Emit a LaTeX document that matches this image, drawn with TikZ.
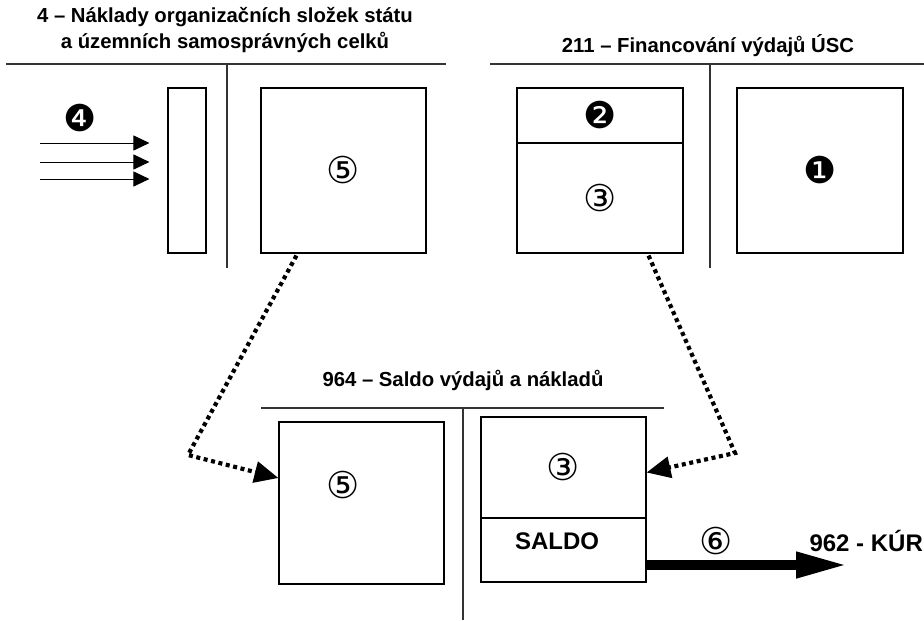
\documentclass[tikz,border=0pt]{standalone}
\usepackage{fontspec}
\setmainfont{Liberation Sans}
\newfontfamily\circfont{DejaVu Sans}
\usetikzlibrary{calc}
\usetikzlibrary{arrows.meta}

\begin{document}
\begin{tikzpicture}
[x=1pt, y=-1pt,
box/.style ={rectangle, draw, line width=1.1pt, inner sep=0pt,
font=\circfont\fontsize{37}{37}\selectfont},
account/.style ={draw=black!80, line width=1.6pt},
title/.style ={font=\bfseries\fontsize{20.3}{26}\selectfont, align=center},
num/.style ={font=\circfont\fontsize{37}{37}\selectfont},
bold/.style ={font=\bfseries\fontsize{24}{24}\selectfont},
flow/.style ={draw, line width=1pt, shorten >=18pt,
-{Triangle[length=16pt,width=15pt]}},
transfer/.style ={draw, line width=4.2pt, dash pattern=on 4pt off 3.6pt,
-{Triangle[length=24pt,width=21pt]}},
result/.style ={draw, line width=10pt, -{Triangle[length=52pt,width=24pt]}}]
\useasboundingbox (0,0) rectangle (924,621);
% top left account
\node [title] (t4) at (225,30) {4 – Náklady organizačních složek státu\\a územních samosprávných celků};
\draw [account] (6,64) -- (446,64);
\draw [account] (227,64) -- (227,268);
\node [box, minimum width=38pt, minimum height=165pt] (narrow) at (187,170.5) {};
\node [box, minimum width=165pt, minimum height=165pt] (b5) at (343.5,170.5) {⑤};
\node [num] (n4) at (80,118) {❹};
\foreach \y in {143,162,179} {
\coordinate (in\y) at (40,\y);
\draw [flow] (in\y) -- (in\y -| narrow.west);
}
% top right account
\node [title] (t211) at (708,46) {211 – Financování výdajů ÚSC};
\draw [account] (490,64) -- (924,64);
\draw [account] (710,64) -- (710,268);
\node [box, minimum width=166pt, minimum height=55pt] (b2) at (600,115.5) {❷};
\node [box, minimum width=166pt, minimum height=110pt] (b3) at (600,198) {③};
\node [box, minimum width=166pt, minimum height=165pt] (b1) at (820,170.5) {❶};
% bottom account
\node [title] (t964) at (463,380) {964 – Saldo výdajů a nákladů};
\draw [account] (261,408) -- (664,408);
\draw [account] (463,408) -- (463,620);
\node [box, minimum width=165pt, minimum height=162pt] (c5) at (361.5,503) {};
\node [num] (n5) at (343,485) {⑤};
\node [box, minimum width=165pt, minimum height=101pt] (c3) at (563.5,467.5) {③};
\node [box, minimum width=165pt, minimum height=64pt] (saldo) at (563.5,550) {};
\node [bold] (saldotext) at (557,541) {SALDO};
\node [num] (n6) at (716,541) {⑥};
\node [bold, anchor=west] (kur) at (806,541) {962 - KÚR};
\coordinate (kurin) at (848,565);
% transfers
\coordinate (k1) at (188,455);
\coordinate (k2) at (735,453);
\draw [transfer] ($(b5.south west)+(36,2)$) -- (k1) -- ($(c5.west)+(0,-25)$);
\draw [transfer] ($(b3.south east)+(-35,2)$) -- (k2) -- ($(c3.east)+(0,5)$);
\draw [result] ($(saldo.east)+(0,15)$) -- (kurin);
\end{tikzpicture}
\end{document}
